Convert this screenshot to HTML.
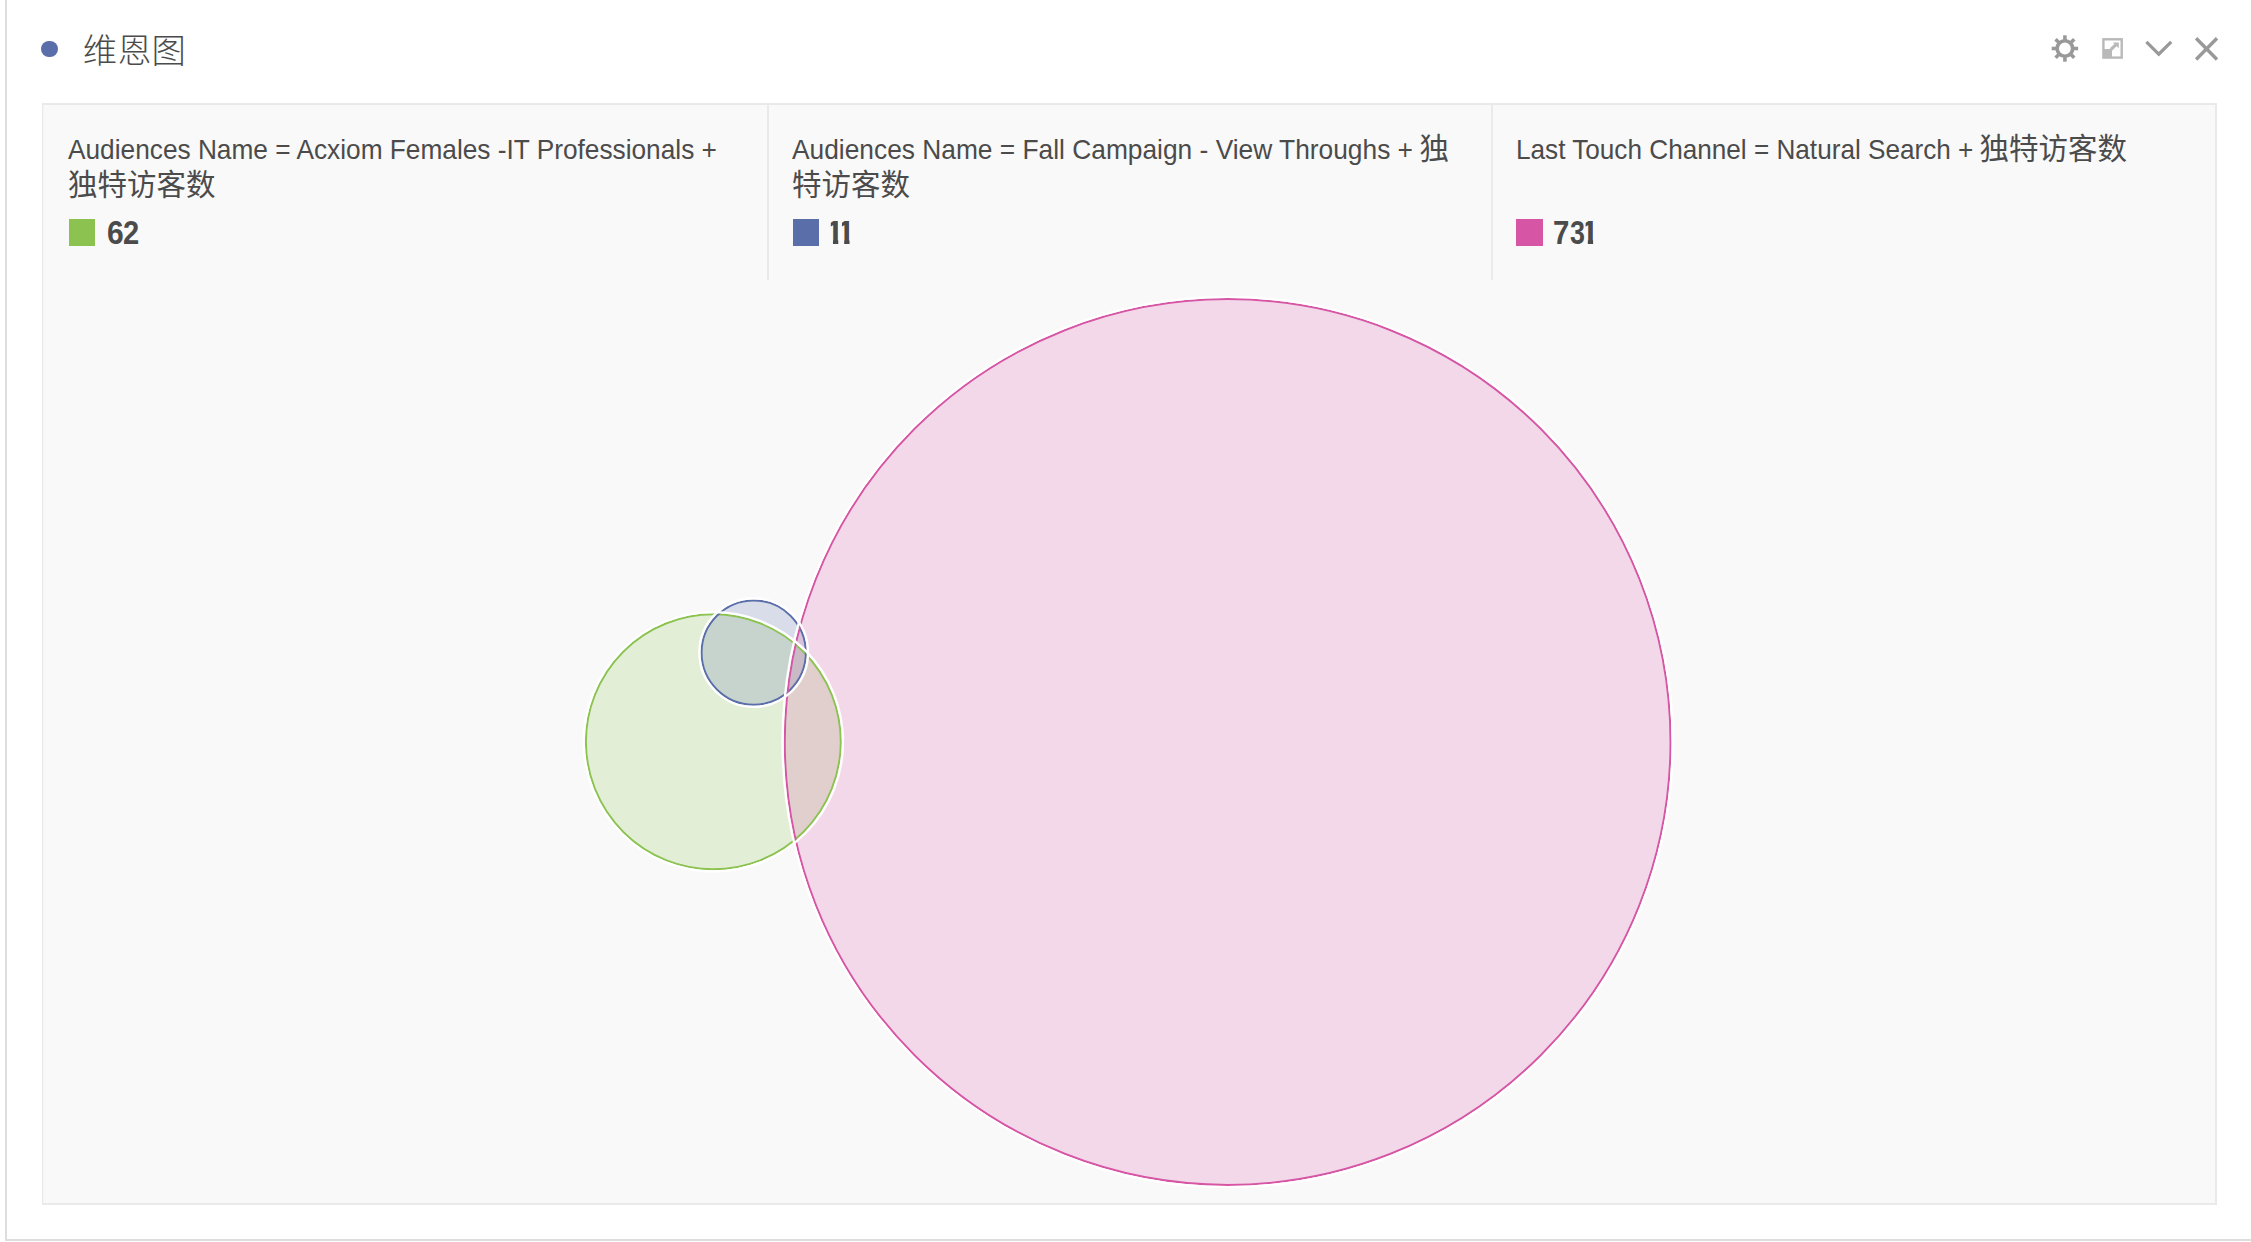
<!DOCTYPE html>
<html lang="zh-CN">
<head>
<meta charset="utf-8">
<title>维恩图</title>
<style>
html,body{margin:0;padding:0;background:#fff;}
body{width:2251px;height:1242px;position:relative;overflow:hidden;font-family:"Liberation Sans","Noto Sans CJK SC",sans-serif;color:#4b4b4b;}
.abs{position:absolute;}
#lb{left:5px;top:0;width:2px;height:1241px;background:#dddddd;}
#bb{left:5px;top:1239px;width:2246px;height:2px;background:#dddddd;}
#dot{left:41.05px;top:40.7px;width:16.5px;height:16.5px;border-radius:50%;background:#5a6eaa;}
#title{left:82.8px;top:25.6px;font-size:34.4px;line-height:50px;font-weight:300;white-space:nowrap;color:#4b4b4b;}
#box{left:42px;top:103px;width:2175px;height:1102px;background:#f9f9f9;}
#box i{position:absolute;display:block;background:#e9e9e9;}
.div{top:105px;width:2px;height:175px;background:#eaeaea;}
.lab{font-size:27.4px;line-height:36px;white-space:normal;color:#4b4b4b;}
.lab .c{font-size:29.5px;line-height:0;}
.sx{display:inline-block;transform-origin:0 50%;white-space:nowrap;}
.sw{width:26px;height:27px;top:219px;}
.num{font-weight:bold;font-size:33px;line-height:36px;top:215.1px;white-space:nowrap;color:#4b4b4b;}
.num span{position:relative;display:inline-block;transform-origin:0 50%;transform:scaleX(.9115);}
.num span.one{transform:none;clip-path:polygon(5.2px 0,12.95px 0,12.95px 24.8px,12.7px 24.8px,12.7px 36px,7.37px 36px,7.37px 24.8px,5.2px 24.8px);}
svg{position:absolute;left:0;top:0;}
</style>
</head>
<body>
<div id="lb" class="abs"></div>
<div id="bb" class="abs"></div>
<div id="dot" class="abs"></div>
<div id="title" class="abs">维恩图</div>
<div id="box" class="abs"><i style="left:0;top:0;width:2175px;height:2px"></i><i style="left:0;top:1100px;width:2175px;height:2px;background:#eaeaea"></i><i style="left:0;top:0;width:1px;height:1102px"></i><i style="left:1px;top:2px;width:1px;height:1098px;background:#f4f4f4"></i><i style="left:2173px;top:0;width:2px;height:1102px"></i></div>
<div class="abs div" style="left:767px"></div>
<div class="abs div" style="left:1491px"></div>

<div class="abs lab" id="l1" style="left:68px;top:132px;width:676px"><span class="sx" id="s1" style="transform:scaleX(.9586);margin-right:-28px">Audiences Name = Acxiom Females -IT Professionals +</span> <span class="c">独特访客数</span></div>
<div class="abs sw" style="left:69px;background:#8cc350"></div>
<div class="abs num" id="n1" style="left:106.7px"><span>6</span><span style="left:-1.65px;transform:scaleX(.8824)">2</span></div>

<div class="abs lab" id="l2" style="left:792px;top:132px;width:675px"><span class="sx" id="s2" style="transform:scaleX(.9612);margin-right:-26.17px">Audiences Name = Fall Campaign - View Throughs +</span> <span class="c" id="c2">独特访客数</span></div>
<div class="abs sw" style="left:793px;background:#5a6eaa"></div>
<div class="abs num" id="n2" style="left:825.6px"><span class="one">1</span><span class="one" style="left:-7.15px">1</span></div>

<div class="abs lab" id="l3" style="left:1516px;top:132px;width:675px"><span class="sx" id="s3" style="transform:scaleX(.9546);margin-right:-23.16px">Last Touch Channel = Natural Search +</span> <span class="c" id="c3">独特访客数</span></div>
<div class="abs sw" style="left:1516px;width:27px;background:#d755a5"></div>
<div class="abs num" id="n3" style="left:1553px"><span style="transform:scaleX(.892)">7</span><span style="left:-1.75px;transform:scaleX(.8145)">3</span><span class="one" style="left:-9.3px">1</span></div>

<svg width="2251" height="1242" viewBox="0 0 2251 1242">
<g fill-opacity="0.2" stroke="none">
<circle cx="713.35" cy="741.82" r="127.47" fill="#8cc350"/>
<circle cx="753.7" cy="652.6" r="52.15" fill="#5a6eaa"/>
<circle cx="1227.65" cy="742.0" r="442.9" fill="#d755a5"/>
</g>
<g fill="none" stroke-width="2">
<circle cx="713.35" cy="741.82" r="127.47" stroke="#8cc350"/>
<circle cx="753.7" cy="652.6" r="52.15" stroke="#5a6eaa"/>
<circle cx="1227.65" cy="742.0" r="442.9" stroke="#d755a5"/>
</g>
<g fill="none" stroke="#fff" stroke-width="2.35">
<circle cx="713.35" cy="741.82" r="129.65"/>
<circle cx="753.7" cy="652.6" r="54.33"/>
<circle cx="1227.65" cy="742.0" r="445.08"/>
</g>
<!-- icons -->
<g id="gear" fill="#999"><circle cx="2064.9" cy="48.5" r="7.75" fill="none" stroke="#999" stroke-width="3.7"/><rect x="2063.12" y="35.30" width="3.56" height="6" transform="rotate(0 2064.9 48.5)"/><rect x="2063.12" y="35.30" width="3.56" height="6" transform="rotate(45 2064.9 48.5)"/><rect x="2063.12" y="35.30" width="3.56" height="6" transform="rotate(90 2064.9 48.5)"/><rect x="2063.12" y="35.30" width="3.56" height="6" transform="rotate(135 2064.9 48.5)"/><rect x="2063.12" y="35.30" width="3.56" height="6" transform="rotate(180 2064.9 48.5)"/><rect x="2063.12" y="35.30" width="3.56" height="6" transform="rotate(225 2064.9 48.5)"/><rect x="2063.12" y="35.30" width="3.56" height="6" transform="rotate(270 2064.9 48.5)"/><rect x="2063.12" y="35.30" width="3.56" height="6" transform="rotate(315 2064.9 48.5)"/></g>
<g id="expand" fill="#b9b9b9"><rect x="2103.4" y="39.3" width="18.3" height="18.3" fill="none" stroke="#b9b9b9" stroke-width="2.4"/><rect x="2103" y="49" width="9" height="9"/><path d="M2112.8 42.5 H2118.8 V48.3 Z"/><path d="M2110.9 49.5 L2116.6 44.2" stroke="#b9b9b9" stroke-width="3.2" fill="none"/></g>
<path d="M2146.4 41.9 L2158.75 54.25 L2171.2 41.8" fill="none" stroke="#999" stroke-width="3.2" stroke-linejoin="miter"/>
<path d="M2196.1 38.2 L2217 59.45 M2217 38.2 L2196.1 59.45" fill="none" stroke="#999" stroke-width="3.4"/>
</svg>
</body>
</html>
